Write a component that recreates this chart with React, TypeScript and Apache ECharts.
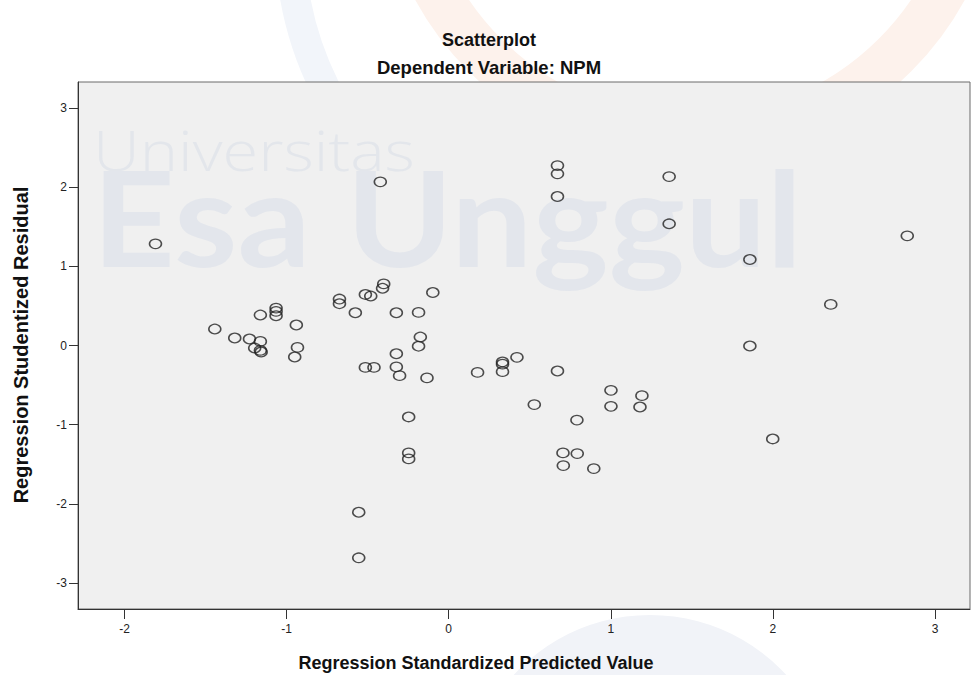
import React, { useEffect, useRef } from "react";
import * as echarts from "echarts";

// Regression Standardized Predicted Value (x) / Regression Studentized Residual (y)
const predicted: number[] = [
  -1.809, -0.422, -1.443, -1.320, -1.229, -1.162, -1.197, -1.162, -1.157, -1.162,
  -1.065, -1.065, -1.065, -0.940, -0.933, -0.950, -0.674, -0.674, -0.576, -0.514,
  -0.481, -0.401, -0.408, -0.098, -0.323, -0.186, -0.175, -0.186, -0.323, -0.514,
  -0.461, -0.323, -0.303, -0.134, -0.247, -0.247, -0.247, -0.555, -0.555, 0.178,
  0.332, 0.332, 0.332, 0.421, 0.528, 0.671, 0.671, 0.671, 0.671, 0.705,
  0.707, 0.793, 0.791, 0.895, 1.001, 1.001, 1.192, 1.180, 1.360, 1.360,
  1.858, 1.858, 1.999, 2.357, 2.829,
];
const residual: number[] = [
  1.285, 2.068, 0.208, 0.095, 0.082, 0.052, -0.032, -0.062, -0.082, 0.385,
  0.473, 0.431, 0.376, 0.259, -0.024, -0.145, 0.587, 0.528, 0.414, 0.645,
  0.625, 0.778, 0.723, 0.670, 0.414, 0.418, 0.107, -0.009, -0.104, -0.277,
  -0.277, -0.271, -0.381, -0.410, -0.903, -1.357, -1.433, -2.107, -2.683, -0.340,
  -0.208, -0.236, -0.331, -0.150, -0.747, -0.322, 2.274, 2.169, 1.883, -1.357,
  -1.518, -1.366, -0.943, -1.556, -0.567, -0.769, -0.634, -0.777, 2.135, 1.538,
  1.087, -0.006, -1.181, 0.519, 1.386,
];
const xTicks: number[] = [-2, -1, 0, 1, 2, 3];
const yTicks: number[] = [-3, -2, -1, 0, 1, 2, 3];

const titleText = "Scatterplot";
const subtitleText = "Dependent Variable: NPM";
const xTitle = "Regression Standardized Predicted Value";
const yTitle = "Regression Studentized Residual";

export default function App() {
  const ref = useRef<HTMLDivElement>(null);
  useEffect(() => {
    if (!ref.current) return;
    const chart = echarts.init(ref.current, undefined, { renderer: "svg" });
    const font = "'Liberation Sans', Arial, sans-serif";
    const data = predicted.map((x, i) => [x, residual[i]]);
    chart.setOption({
      animation: false,
      backgroundColor: "#ffffff",
      grid: {
        left: 78,
        top: 82,
        right: 1,
        bottom: 66,
        show: true,
        backgroundColor: "#f0f0f0",
        borderColor: "#6a6a6a",
        borderWidth: 1,
        containLabel: false,
      },
      xAxis: {
        type: "value",
        min: -2.287,
        max: 3.216,
        splitLine: { show: false },
        axisLine: { show: true, onZero: false, lineStyle: { color: "#333", width: 1 } },
        axisTick: {
          show: true,
          inside: false,
          length: 10,
          customValues: xTicks,
          lineStyle: { color: "#333", width: 1 },
        },
        axisLabel: {
          customValues: xTicks,
          margin: 14,
          fontFamily: font,
          fontSize: 12,
          color: "#222",
          showMinLabel: true,
          showMaxLabel: true,
        },
      },
      yAxis: {
        type: "value",
        min: -3.33,
        max: 3.33,
        splitLine: { show: false },
        axisLine: { show: true, onZero: false, lineStyle: { color: "#333", width: 1 } },
        axisTick: {
          show: true,
          inside: false,
          length: 9,
          customValues: yTicks,
          lineStyle: { color: "#333", width: 1 },
        },
        axisLabel: {
          customValues: yTicks,
          margin: 11,
          fontFamily: font,
          fontSize: 12,
          color: "#222",
          showMinLabel: true,
          showMaxLabel: true,
        },
      },
      graphic: [
        {
          type: "arc",
          z: -1,
          silent: true,
          shape: { cx: 690, cy: -150, r: 290, startAngle: 0, endAngle: Math.PI },
          style: { stroke: "#fdf2ec", lineWidth: 46, fill: "none" },
        },
        {
          type: "arc",
          z: -1,
          silent: true,
          shape: { cx: 620, cy: -60, r: 330, startAngle: Math.PI * 0.55, endAngle: Math.PI * 0.95 },
          style: { stroke: "#f2f5fa", lineWidth: 30, fill: "none" },
        },
        {
          type: "circle",
          z: -1,
          silent: true,
          shape: { cx: 650, cy: 800, r: 185 },
          style: { fill: "#f1f3f8" },
        },
        {
          type: "text",
          z: 1,
          silent: true,
          x: 93,
          y: 149,
          scaleX: 1.16,
          style: {
            text: "Universitas",
            fontFamily: "'Open Sans', sans-serif",
            fontSize: 56,
            fontWeight: 300,
            fill: "#e3e6eb",
            align: "left",
            verticalAlign: "middle",
          },
        },
        {
          type: "text",
          z: 1,
          silent: true,
          x: 92,
          y: 216,
          scaleX: 1.095,
          style: {
            text: "Esa Unggul",
            fontFamily: "Lato, sans-serif",
            fontSize: 132,
            fontWeight: "bold",
            fill: "#e3e6ec",
            align: "left",
            verticalAlign: "middle",
          },
        },
        {
          type: "text",
          x: 489,
          y: 40,
          style: {
            text: titleText,
            fontFamily: font,
            fontSize: 18,
            fontWeight: "bold",
            fill: "#111",
            align: "center",
            verticalAlign: "middle",
          },
        },
        {
          type: "text",
          x: 489,
          y: 67,
          style: {
            text: subtitleText,
            fontFamily: font,
            fontSize: 18.5,
            fontWeight: "bold",
            fill: "#111",
            align: "center",
            verticalAlign: "middle",
          },
        },
        {
          type: "text",
          x: 476,
          y: 663,
          style: {
            text: xTitle,
            fontFamily: font,
            fontSize: 18,
            fontWeight: "bold",
            fill: "#111",
            align: "center",
            verticalAlign: "middle",
          },
        },
        {
          type: "text",
          x: 21,
          y: 345,
          rotation: Math.PI / 2,
          style: {
            text: yTitle,
            fontFamily: font,
            fontSize: 20,
            fontWeight: "bold",
            fill: "#111",
            align: "center",
            verticalAlign: "middle",
          },
        },
      ],
      series: [
        {
          type: "scatter",
          z: 3,
          data,
          symbol: "circle",
          symbolSize: [12, 9.5],
          itemStyle: {
            color: "rgba(0,0,0,0)",
            borderColor: "#222",
            borderWidth: 1.4,
          },
          emphasis: { disabled: true },
        },
      ],
    });
    return () => chart.dispose();
  }, []);
  return (
    <div
      ref={ref}
      style={{ position: "fixed", left: 0, top: 0, width: 971, height: 675 }}
    />
  );
}
